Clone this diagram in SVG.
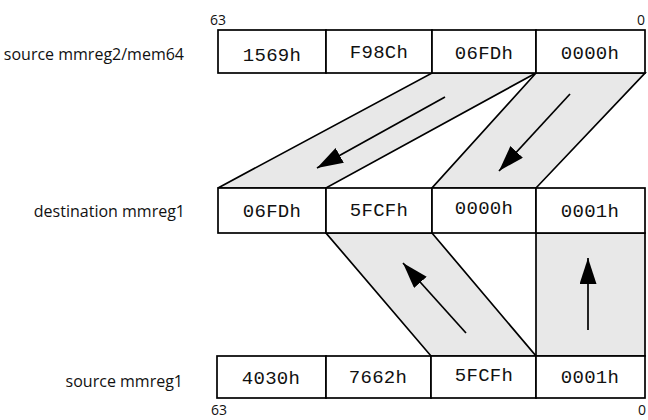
<svg xmlns="http://www.w3.org/2000/svg" width="648" height="420" viewBox="0 0 648 420">
<style>
.cell{fill:#fff;stroke:#000;stroke-width:1.7}
.val{font-family:"Liberation Mono","DejaVu Sans Mono",monospace;font-size:19px;letter-spacing:0.3px;text-anchor:middle;fill:#111}
.lbl{font-family:"Open Sans","Noto Sans",sans-serif;font-size:16px;text-anchor:end;fill:#111}
.bit{font-family:"Open Sans","Noto Sans",sans-serif;font-size:14px;fill:#111}
.band{fill:#e8e8e8;stroke:#000;stroke-width:1.7;stroke-linejoin:miter}
.arr{stroke:#000;stroke-width:1.7;fill:none;marker-end:url(#ah)}
</style>
<defs>
<marker id="ah" markerUnits="userSpaceOnUse" markerWidth="27" markerHeight="18" refX="26" refY="8.5" orient="auto">
<path d="M0,0 L26,8.5 L0,17 z" fill="#000"/>
</marker>
</defs>
<g id="connectors">
<polygon class="band" points="432,73 536,73 326,188 218,188"/>
<polygon class="band" points="536,73 645,73 536,188 432,188"/>
<polygon class="band" points="326,233 432,233 536,356 431,356"/>
<rect class="band" x="536" y="233" width="109" height="123"/>
<line class="arr" x1="445" y1="97" x2="317" y2="168"/>
<line class="arr" x1="570" y1="94" x2="499" y2="171"/>
<line class="arr" x1="466" y1="333" x2="403" y2="263"/>
<line class="arr" x1="588" y1="330" x2="588" y2="258"/>
</g>
<g id="src2">
<text class="lbl" x="184" y="60">source mmreg2/mem64</text>
<text class="bit" x="210" y="25" font-size="16">63</text>
<text class="bit" x="637" y="25" font-size="16">0</text>
<rect class="cell" x="218" y="30" width="108" height="43"/>
<rect class="cell" x="326" y="30" width="106" height="43"/>
<rect class="cell" x="432" y="30" width="104" height="43"/>
<rect class="cell" x="536" y="30" width="109" height="43"/>
<text class="val" x="272" y="61">1569h</text>
<text class="val" x="379" y="58">F98Ch</text>
<text class="val" x="484" y="59">06FDh</text>
<text class="val" x="590" y="59">0000h</text>
</g>
<g id="dest">
<text class="lbl" x="185" y="217">destination mmreg1</text>
<rect class="cell" x="218" y="188" width="108" height="45"/>
<rect class="cell" x="326" y="188" width="106" height="45"/>
<rect class="cell" x="432" y="188" width="104" height="45"/>
<rect class="cell" x="536" y="188" width="109" height="45"/>
<text class="val" x="272" y="217">06FDh</text>
<text class="val" x="379" y="216">5FCFh</text>
<text class="val" x="484" y="214">0000h</text>
<text class="val" x="590" y="217">0001h</text>
</g>
<g id="src1">
<text class="lbl" x="183" y="387">source mmreg1</text>
<rect class="cell" x="217" y="356" width="109" height="42"/>
<rect class="cell" x="326" y="356" width="105" height="42"/>
<rect class="cell" x="431" y="356" width="105" height="42"/>
<rect class="cell" x="536" y="356" width="109" height="42"/>
<text class="val" x="271" y="384">4030h</text>
<text class="val" x="378" y="383">7662h</text>
<text class="val" x="484" y="381">5FCFh</text>
<text class="val" x="590" y="383">0001h</text>
<text class="bit" x="211" y="415">63</text>
<text class="bit" x="638" y="415">0</text>
</g>
</svg>
